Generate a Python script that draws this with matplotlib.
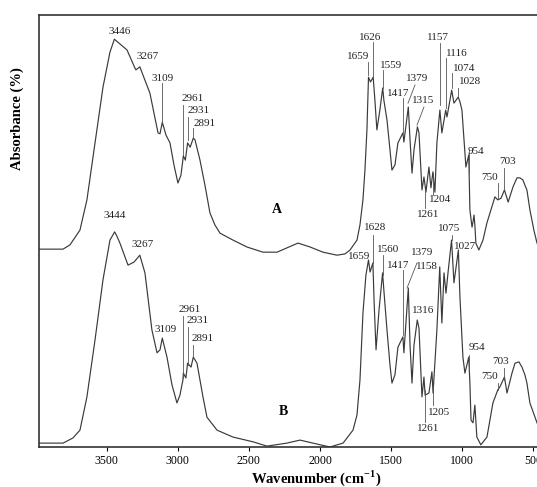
import matplotlib.pyplot as plt

plt.rcParams['font.family'] = ['Liberation Serif', 'DejaVu Serif']
plt.rcParams['mathtext.fontset'] = 'custom'
plt.rcParams['mathtext.rm'] = 'Liberation Serif'
plt.rcParams['mathtext.bf'] = 'Liberation Serif:bold'

# FTIR spectrum A (wavenumber, absorbance a.u.)
wn_a = [3976, 3807, 3758, 3688, 3639, 3582, 3526, 3477, 3446, 3357, 3301, 3294,
        3267, 3196, 3139, 3125, 3109, 3083, 3055, 3027, 2999, 2978, 2966, 2961,
        2947, 2931, 2913, 2891, 2879, 2844, 2809, 2774, 2739, 2703, 2612, 2514,
        2401, 2302, 2232, 2155, 2070, 1979, 1881, 1824, 1789, 1740, 1719, 1698,
        1684, 1670, 1659, 1645, 1626, 1614, 1600, 1579, 1559, 1551, 1529, 1508,
        1494, 1473, 1452, 1417, 1410, 1379, 1367, 1353, 1339, 1315, 1304, 1283,
        1269, 1255, 1234, 1220, 1206, 1192, 1178, 1157, 1143, 1116, 1107, 1074,
        1058, 1028, 1016, 1002, 981, 974, 954, 946, 931, 924, 917, 911, 904, 883,
        854, 826, 798, 770, 750, 727, 703, 677, 643, 615, 594, 573, 559, 545, 524,
        496, 474, 453]
abs_a = [45.8, 45.8, 46.8, 50.2, 57.2, 70.4, 83.3, 91.4, 94.4, 91.9, 87.7, 87.3,
         88.0, 81.9, 72.7, 72.5, 75.2, 72.2, 70.4, 65.3, 61.1, 62.9, 66.0, 67.4,
         66.4, 70.4, 69.4, 71.5, 71.1, 66.4, 60.6, 54.2, 51.4, 49.5, 47.9, 46.3,
         45.1, 45.1, 46.1, 47.2, 46.3, 45.1, 44.4, 44.7, 45.6, 47.9, 51.4, 57.2,
         64.1, 73.4, 85.6, 84.5, 85.6, 80.3, 73.4, 78.0, 83.1, 80.3, 75.7, 68.8,
         64.1, 65.3, 70.4, 72.7, 70.6, 78.7, 71.1, 63.4, 68.8, 74.1, 72.7, 59.5,
         62.5, 59.0, 64.8, 60.0, 63.7, 59.0, 70.4, 78.0, 72.7, 78.0, 76.4, 82.6,
         79.6, 81.0, 79.9, 78.0, 68.1, 64.8, 67.6, 54.9, 50.9, 52.1, 53.7, 51.4,
         47.2, 45.6, 47.9, 51.9, 54.9, 57.9, 57.2, 57.6, 59.5, 56.7, 60.2, 62.3,
         62.3, 61.8, 60.6, 59.5, 54.9, 50.2, 47.2, 45.6]

# FTIR spectrum B
wn_b = [3976, 3807, 3737, 3688, 3639, 3582, 3526, 3477, 3444, 3428, 3407, 3350,
        3308, 3267, 3231, 3182, 3146, 3125, 3109, 3076, 3041, 3006, 2985, 2964,
        2961, 2943, 2931, 2907, 2891, 2865, 2823, 2795, 2724, 2612, 2471, 2373,
        2233, 2141, 2050, 1930, 1838, 1768, 1740, 1719, 1698, 1677, 1659, 1648,
        1628, 1620, 1606, 1585, 1560, 1551, 1529, 1508, 1494, 1473, 1452, 1417,
        1410, 1379, 1367, 1353, 1339, 1316, 1304, 1283, 1269, 1261, 1234, 1213,
        1205, 1178, 1158, 1143, 1128, 1114, 1100, 1075, 1058, 1027, 1016, 995,
        981, 954, 946, 938, 924, 911, 897, 869, 826, 784, 750, 735, 703, 685, 650,
        629, 601, 580, 559, 545, 524, 474, 453]
abs_b = [0.9, 0.9, 2.1, 3.9, 11.6, 24.8, 38.7, 47.9, 49.8, 48.8, 47.2, 42.1,
         42.8, 44.4, 40.3, 27.1, 21.8, 22.5, 25.2, 20.8, 14.4, 10.2, 12.0, 15.5,
         17.1, 16.0, 19.4, 18.5, 20.8, 19.4, 11.6, 6.9, 3.9, 2.3, 1.2, 0.2,
         0.9, 1.6, 0.9, 0.0, 0.9, 3.9, 7.4, 15.5, 31.0, 39.8, 43.3, 40.5,
         42.6, 34.0, 22.5, 31.7, 40.3, 36.3, 27.1, 19.0, 14.8, 16.7, 23.1, 25.5,
         21.8, 36.8, 23.6, 14.8, 23.6, 29.4, 27.5, 11.6, 16.2, 12.0, 12.5, 17.4,
         12.5, 27.1, 41.7, 28.7, 40.3, 35.6, 40.3, 47.9, 38.0, 45.6, 34.7, 20.8,
         17.1, 20.8, 14.8, 6.2, 5.6, 9.7, 2.3, 0.5, 2.3, 10.2, 13.2, 13.9, 16.2,
         12.5, 17.1, 19.4, 19.7, 18.5, 16.7, 14.8, 10.2, 5.6, 3.9]

x_ticks = [3500, 3000, 2500, 2000, 1500, 1000, 500]

# peak labels: (text, x, y) and leader lines (x0, y0, x1, y1)
labels_a = [("3446", 3406, 96.1), ("3267", 3210, 90.3), ("3109", 3104, 85.4),
            ("2961", 2893, 80.6), ("2931", 2851, 77.8), ("2891", 2809, 75.0),
            ("1626", 1649, 94.9), ("1659", 1733, 90.3), ("1559", 1501, 88.4),
            ("1417", 1452, 81.9), ("1379", 1318, 85.2), ("1315", 1276, 80.1),
            ("1157", 1171, 94.7), ("1116", 1037, 91.2), ("1074", 988, 87.7),
            ("1028", 946, 84.5), ("954", 905, 68.3), ("750", 805, 62.3),
            ("703", 680, 66.0), ("1204", 1157, 57.4), ("1261", 1242, 53.9)]
leaders_a = [(3109, 84.3, 3109, 74.5), (2961, 79.2, 2961, 67.6),
             (2931, 76.4, 2931, 71.1), (2891, 73.8, 2891, 71.8),
             (1626, 93.8, 1626, 85.6), (1659, 89.1, 1659, 86.1),
             (1559, 87.3, 1559, 83.1), (1417, 80.8, 1417, 72.7),
             (1332, 83.8, 1381, 79.6), (1269, 78.7, 1318, 74.5),
             (1157, 93.5, 1157, 79.2), (1116, 90.0, 1116, 78.5),
             (1074, 86.6, 1074, 83.1), (1028, 83.1, 1028, 81.0),
             (954, 68.8, 954, 63.4), (750, 61.1, 750, 57.6),
             (703, 64.6, 703, 59.5), (1204, 63.4, 1204, 58.3),
             (1261, 59.5, 1261, 55.3)]

labels_b = [("3444", 3441, 53.5), ("3267", 3245, 46.8), ("3109", 3083, 27.1),
            ("2961", 2914, 31.9), ("2931", 2858, 29.2), ("2891", 2823, 25.2),
            ("1628", 1614, 50.7), ("1659", 1726, 44.0), ("1560", 1522, 45.8),
            ("1417", 1452, 42.1), ("1379", 1283, 45.1), ("1158", 1247, 41.7),
            ("1316", 1276, 31.7), ("1075", 1093, 50.5), ("1027", 981, 46.3),
            ("954", 896, 23.1), ("703", 733, 19.9), ("750", 811, 16.4),
            ("1205", 1162, 8.1), ("1261", 1242, 4.2)]
leaders_b = [(2961, 30.3, 2961, 16.0), (2931, 27.8, 2931, 19.0),
             (2891, 23.6, 2891, 20.8), (1628, 49.1, 1628, 42.6),
             (1560, 44.4, 1560, 39.8), (1417, 41.0, 1417, 25.9),
             (1318, 42.6, 1388, 36.8), (1075, 49.0, 1075, 47.9),
             (954, 21.3, 954, 17.8), (703, 18.3, 703, 15.5),
             (750, 14.8, 750, 13.2), (1205, 14.4, 1205, 9.7),
             (1261, 13.2, 1261, 5.8)]

fig = plt.figure(figsize=(5.37, 4.87), dpi=100)
ax = fig.add_axes([39 / 537, 40 / 487, 501 / 537, 432 / 487])

line_kw = dict(color='#3a3a3a', lw=0.85, solid_joinstyle='round')
ax.plot(wn_a, abs_a, **line_kw)
ax.plot(wn_b, abs_b, **line_kw)

for labels, leaders in ((labels_a, leaders_a), (labels_b, leaders_b)):
    for txt, x, y in labels:
        ax.text(x, y, txt, fontsize=8, ha='center', va='center', color='#222222')
    for x0, y0, x1, y1 in leaders:
        ax.plot([x0, x1], [y0, y1], color='#555555', lw=0.6)

ax.text(2303, 54.9, "A", fontsize=10, fontweight='bold', ha='center', va='center')
ax.text(2260, 8.3, "B", fontsize=10, fontweight='bold', ha='center', va='center')

ax.set_xlim(3976, 453)
ax.set_ylim(0, 100)
ax.set_xticks(x_ticks)
ax.tick_params(axis='x', direction='out', length=3, width=0.8, labelsize=8.5, pad=3)
ax.set_yticks([])
for sp in ax.spines.values():
    sp.set_linewidth(1.2)
    sp.set_color('#333333')

fig.text(316 / 537, 1 - 478 / 487, r"Wavenumber (cm$^{\mathbf{-1}}$)", fontsize=10.5,
         fontweight='bold', ha='center', va='center')
fig.text(17 / 537, 1 - 119 / 487, "Absorbance (%)", fontsize=10.5, fontweight='bold',
         rotation=90, ha='center', va='center')

fig.savefig("out.png", dpi=100)
